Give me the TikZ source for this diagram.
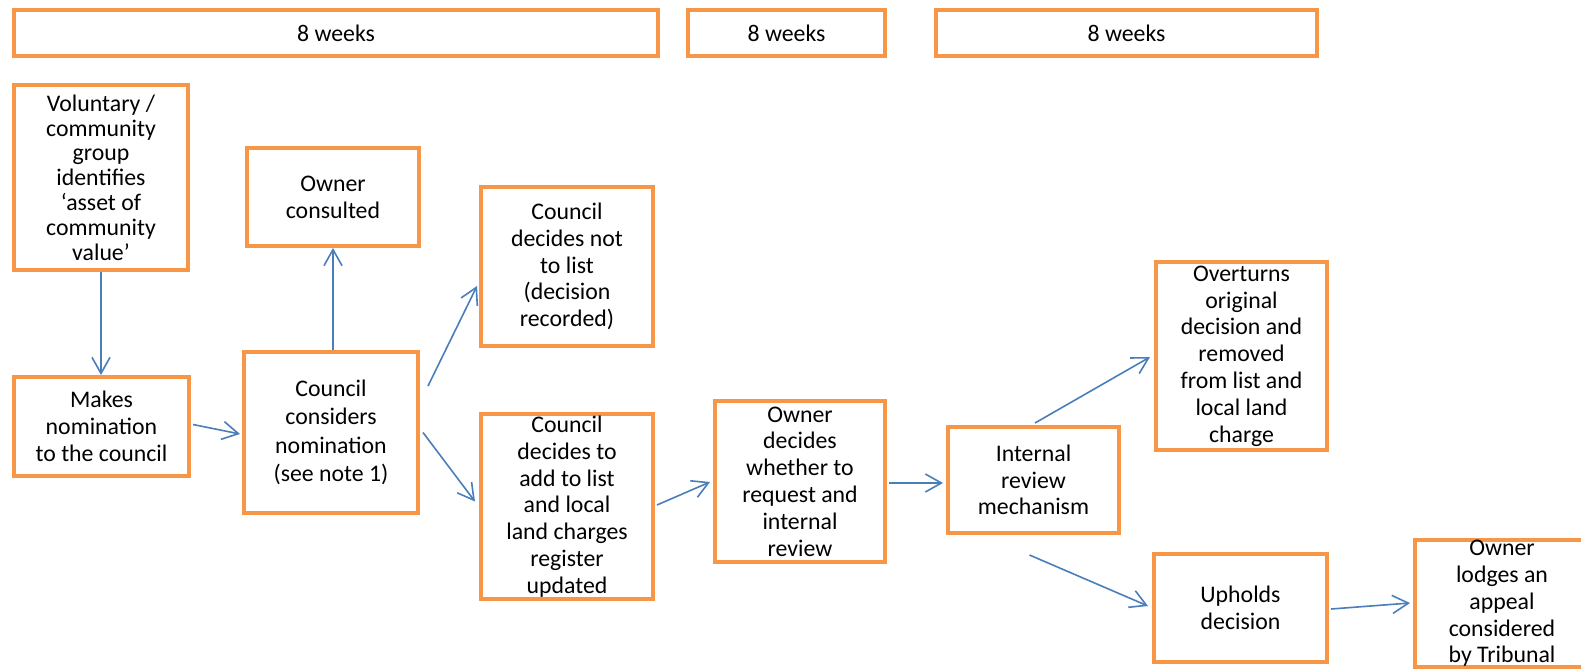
\documentclass[tikz,border=0pt]{standalone}
\usepackage{fontspec}
\setmainfont{Carlito}
\usetikzlibrary{arrows.meta,calc}
\definecolor{boxorange}{HTML}{F79646}
\definecolor{arrowblue}{HTML}{4A7EBB}
\tikzset{
  box/.style={draw=boxorange, line width=2pt, fill=white, align=center, inner sep=0pt,
    font=\fontsize{11.9}{13.4}\selectfont},
  sz/.style 2 args={minimum width=#1pt, minimum height=#2pt},
  conn/.style={draw=arrowblue, line width=0.8pt, -{Straight Barb[length=8pt,width=9pt,line width=0.8pt]}},
}
\begin{document}
\begin{tikzpicture}[x=0.5pt,y=-0.5pt]
\clip (0,0) rectangle (1581,671);
\fill[white] (0,0) rectangle (1581,671);
% top bars
\node[box, sz={322}{23}] (t1) at (336,33) {8 weeks};
\node[box, sz={98.5}{23}] (t2) at (786.5,33) {8 weeks};
\node[box, sz={190.5}{23}] (t3) at (1126.5,33) {8 weeks};
% boxes
\node[box, sz={87}{92.5}, font=\fontsize{11.9}{12.4}\selectfont] (vol) at (101,177.5)
  {Voluntary /\\community\\group\\identifies\\‘asset of\\community\\value’};
\node[box, sz={86}{49}] (oc) at (333,197) {Owner\\consulted};
\node[box, sz={86}{79.5}] (notl) at (567,266.5) {Council\\decides not\\to list\\(decision\\recorded)};
\node[box, sz={87.5}{49.5}] (mn) at (101.5,426.5) {Makes\\nomination\\to the council};
\node[box, sz={87}{80.5}, font=\fontsize{11.9}{14.2}\selectfont] (cc) at (331,432.5) {Council\\considers\\nomination\\(see note 1)};
\node[box, sz={86}{92.5}] (add) at (567,506.5) {Council\\decides to\\add to list\\and local\\land charges\\register\\updated};
\node[box, sz={85}{80.5}] (od) at (800,481.5) {Owner\\decides\\whether to\\request and\\internal\\review};
\node[box, sz={85.5}{53}] (ir) at (1033.5,480) {Internal\\review\\mechanism};
\node[box, sz={85.5}{94}] (ov) at (1241.5,356) {Overturns\\original\\decision and\\removed\\from list and\\local land\\charge};
\node[box, sz={86.5}{54}] (up) at (1240.5,608) {Upholds\\decision};
\node[box, sz={87}{61.5}] (ol) at (1502,603.5) {Owner\\lodges an\\appeal\\considered\\by Tribunal};
% connectors
\draw[conn] (vol.south) -- (vol.south |- mn.north);
\draw[conn] ($(mn.east)+(2,-2)$) -- ($(cc.west)+(-2,1.5)$);
\draw[conn] ($(cc.north)+(2,0)$) -- ($(cc.north |- oc.south)+(2,0)$);
\draw[conn] ($(cc.east)+(8,-46.5)$) -- ($(notl.west)+(-2,19.5)$);
\draw[conn] ($(cc.east)+(3,0)$) -- ($(add.west)+(-4,-5)$);
\draw[conn] ($(add.east)+(2,-1.5)$) -- ($(od.west)+(-3,0.5)$);
\draw[conn] ($(od.east)+(2,1.5)$) -- ($(ir.west)+(-3,3)$);
\draw[conn] ($(ir.north)+(1.5,-2)$) -- ($(ov.west)+(-4,1)$);
\draw[conn] ($(ir.south)+(-4,20)$) -- ($(up.west)+(-4,-2)$);
\draw[conn] ($(up.east)+(2,1)$) -- ($(ol.west)+(-3,-0.5)$);
\end{tikzpicture}
\end{document}
